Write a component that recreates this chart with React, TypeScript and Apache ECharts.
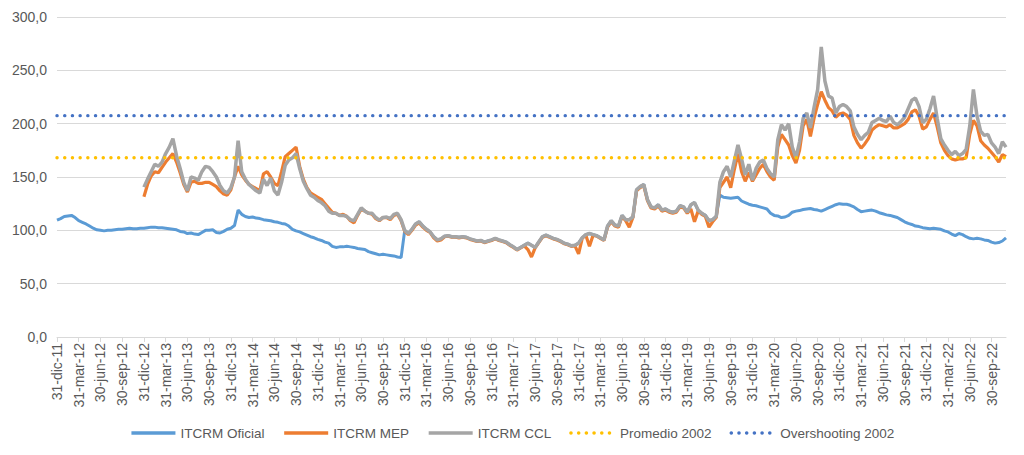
import React, { useEffect, useRef } from 'react';
import * as echarts from 'echarts';

const MONTHS = ['ene', 'feb', 'mar', 'abr', 'may', 'jun', 'jul', 'ago', 'sep', 'oct', 'nov', 'dic'];
const N_POINTS = 263; // semimonthly from 31-dic-11 to 30-nov-22

function buildCategories(count: number): string[] {
  const out: string[] = [];
  for (let i = 0; i < count; i++) {
    const k = Math.ceil(i / 2);
    const year = 2011 + Math.floor((11 + k) / 12);
    const month = (11 + k) % 12;
    const day = i % 2 === 1 ? 15 : new Date(year, month + 1, 0).getDate();
    out.push(`${day}-${MONTHS[month]}-${String(year % 100).padStart(2, '0')}`);
  }
  return out;
}

const categories = buildCategories(N_POINTS);

const itcrmOficial: number[] = [
  109.5, 111, 113, 113.5, 114, 112, 109, 107.5, 106, 104,
  102, 100.5, 100, 99.5, 100, 100, 100.5, 101, 101, 101.5,
  102, 101.5, 101.5, 102, 102, 102.5, 103, 103, 102.5, 102.5,
  102, 101.5, 101, 100.5, 99, 98.5, 97, 97.5, 96.5, 96,
  98, 100, 100, 100.5, 98, 97.5, 99, 101, 102, 104.5,
  119, 115, 113, 112, 112.5, 111.5, 111, 110, 109.5, 109,
  108, 107.5, 106.5, 106, 104, 101, 99.5, 98.5, 97, 95.5,
  94, 93, 91.5, 90.5, 89, 88, 85, 84, 84.5, 84.5,
  85, 84.5, 84, 83, 82.5, 82, 80, 79, 78, 77,
  77.5, 77, 76.5, 76, 75, 74.5,
  100, 97, 101, 106, 108, 104, 101, 98.5, 94, 91,
  92, 94.5, 95, 94, 94, 93.5, 94, 93.5, 92, 91,
  90, 90.5, 89, 90, 91, 92.5, 91, 90, 89, 86.5,
  84.5, 82, 84, 86, 88, 86, 84, 89, 94, 95.5,
  94, 92.5, 91.5, 90, 88, 87, 85.5, 86, 88, 93,
  96, 97, 96, 95, 93, 91, 104, 109, 105, 104,
  114, 110, 110, 112.5, 138, 141, 143, 129, 122, 121,
  124, 119, 120, 118, 117, 118, 123, 122, 117, 124,
  126, 119, 116, 114, 109, 110, 113,
  133, 131, 130.5, 130, 130.5, 131, 127.5, 126, 124.5, 123.5,
  123, 122, 121, 120, 116, 114, 113.5, 112, 112.5, 114,
  117, 118, 118.5, 119.5, 120, 120.5, 119.5, 119, 118, 119.5,
  121, 122.5, 124, 125, 124.5, 124.5, 123.5, 122, 119.5, 117.5,
  118, 118.5, 119, 118, 116.5, 115.5, 114.5, 114, 113, 112,
  110, 108, 106.5, 105.5, 104, 103.5, 102.5, 102, 101.5, 102,
  101.5, 101, 99.5, 98.5, 96.5, 95, 97, 96, 94, 92.5,
  92, 92.5, 92, 91, 90.5, 89, 88, 88.5, 90, 93,
];

const itcrmMep: (number | null)[] = [
  null, null, null, null, null, null, null, null, null, null, null, null,
  null, null, null, null, null, null, null, null, null, null, null, null,
  131.5, 143, 151, 155, 154, 159, 164, 168, 172, 164,
  154, 143, 136, 145, 146, 144, 144, 145, 145, 143,
  141, 137, 134, 133, 138, 150, 160, 152, 147, 143,
  141, 139, 137, 153, 155, 150, 144, 142, 155, 169,
  172, 175, 178, 160, 148, 140, 135, 133, 131, 129,
  125, 121, 117, 116, 114, 115, 113, 109, 107, 114,
  120, 118, 116, 115, 111, 109, 112, 112, 110, 114, 115, 109,
  99, 96, 100, 105, 107, 103, 100, 98, 93, 90,
  91, 94, 94.5, 93.5, 93.5, 93, 93.5, 93, 91.5, 90.5,
  89.5, 90, 88.5, 89.5, 90.5, 92, 90.5, 89.5, 88.5, 86,
  84, 81.5, 83.5, 85.5, 82, 75, 83.5, 88.5, 93.5, 95,
  93.5, 92, 91, 89.5, 87.5, 86.5, 85, 85.5, 78, 92.5,
  95.5, 85, 95.5, 94.5, 92.5, 90.5, 103, 108, 104, 103,
  113, 109, 103, 112, 137, 140, 142, 128, 121, 120,
  123, 118, 119, 117, 116, 117, 122, 121, 116, 120,
  108, 118, 115, 113, 103, 108, 112,
  140, 145, 150, 140, 157, 172, 155, 146, 154, 146,
  152, 158, 162, 155, 150, 147, 178, 190, 185, 180,
  170, 163, 175, 198, 204, 188, 205, 218, 230, 222,
  215, 212, 206, 209, 210, 208, 204, 189, 182, 177,
  181, 186, 194, 197, 199, 198, 197, 199, 196, 196,
  198, 200, 204, 211, 213, 207, 195, 197, 204, 210,
  197, 182, 175, 170, 167, 166, 167, 167, 168, 190,
  203, 198, 184, 180, 177, 173, 169, 164, 171, 169,
];

const itcrmCcl: (number | null)[] = [
  null, null, null, null, null, null, null, null, null, null, null, null,
  null, null, null, null, null, null, null, null, null, null, null, null,
  140.5, 148, 155, 162, 160, 164, 172, 178, 186, 170,
  158, 145, 137, 150, 149, 147, 155, 160, 159, 155,
  150, 142, 137, 135, 140, 150, 184, 155, 148, 143,
  140, 137, 135, 148, 142, 149, 137, 133, 145, 161,
  166, 168, 172, 158, 146, 139, 133, 131, 128, 126,
  123, 118, 116, 116, 114, 114, 113, 110, 109, 115,
  121, 118, 116, 116, 112, 109.5, 112, 112.5, 111, 115, 116, 110,
  100, 97, 101, 106, 108, 104, 101, 98.5, 94, 91,
  92, 94.5, 95, 94, 94, 93.5, 94, 93.5, 92, 91,
  90, 90.5, 89, 90, 91, 92.5, 91, 90, 89, 86.5,
  84.5, 82, 84, 86, 88, 86, 84, 89, 94, 95.5,
  94, 92.5, 91.5, 90, 88, 87, 85.5, 86, 88, 93,
  96, 97, 96, 95, 93, 91, 104, 109, 105, 104,
  114, 110, 110, 112.5, 138, 141, 143, 129, 122, 121,
  124, 119, 120, 118, 117, 118, 123, 122, 117, 124,
  126, 119, 116, 114, 109, 110, 113,
  145, 155, 160, 150, 165, 180, 167, 152, 162, 147,
  158, 164, 166, 158, 153, 150, 185, 199, 194, 200,
  178, 168, 183, 205, 210, 196, 215, 232, 272, 240,
  226, 224, 210, 216, 218, 216, 212, 197, 190, 185,
  189, 192, 201, 203, 205, 203, 202, 207, 201, 199,
  202, 206, 214, 222, 224, 216, 201, 204, 214, 226,
  205, 186, 180, 175, 171, 174, 170, 172, 176, 198,
  232, 207, 193, 189, 190, 182, 178, 172, 183, 178,
];

const PROMEDIO_2002 = 168;
const OVERSHOOTING_2002 = 207.5;

const FONT = "'Liberation Sans', Arial, sans-serif";
const TEXT_COLOR = '#595959';

export default function App() {
  const ref = useRef<HTMLDivElement>(null);

  useEffect(() => {
    document.body.style.margin = '0';
    if (!ref.current) return;
    const chart = echarts.init(ref.current, null, { renderer: 'svg' });

    const dotted = (color: string) => ({
      color,
      width: 3.4,
      type: [0.1, 7.6] as number[],
      cap: 'round' as const,
    });

    chart.setOption({
      animation: false,
      textStyle: { fontFamily: FONT },
      grid: { left: 57, right: 18, top: 17, bottom: 118, containLabel: false },
      legend: {
        top: 421,
        left: 'center',
        itemWidth: 44,
        itemHeight: 14,
        itemGap: 18,
        itemStyle: { opacity: 0 },
        lineStyle: { width: 3.5 },
        textStyle: { color: TEXT_COLOR, fontSize: 13.5, fontFamily: FONT },
        data: ['ITCRM Oficial', 'ITCRM MEP', 'ITCRM CCL', 'Promedio 2002', 'Overshooting 2002'],
      },
      xAxis: {
        type: 'category',
        data: categories,
        boundaryGap: false,
        axisLine: { lineStyle: { color: '#D9D9D9', width: 1 } },
        axisTick: { show: true, interval: 5, length: 5, lineStyle: { color: '#D9D9D9' } },
        axisLabel: {
          interval: 5,
          rotate: 90,
          margin: 6,
          color: TEXT_COLOR,
          fontSize: 14,
          fontFamily: FONT,
        },
        splitLine: { show: false },
      },
      yAxis: {
        type: 'value',
        min: 0,
        max: 300,
        interval: 50,
        axisLine: { show: false },
        axisTick: { show: false },
        axisLabel: {
          margin: 10,
          color: TEXT_COLOR,
          fontSize: 14,
          fontFamily: FONT,
          formatter: (v: number) => v.toFixed(1).replace('.', ','),
        },
        splitLine: { lineStyle: { color: '#D9D9D9', width: 1 } },
      },
      series: [
        {
          name: 'ITCRM Oficial',
          type: 'line',
          data: itcrmOficial,
          symbol: 'none',
          lineStyle: { color: '#5B9BD5', width: 3 },
          itemStyle: { color: '#5B9BD5' },
        },
        {
          name: 'ITCRM MEP',
          type: 'line',
          data: itcrmMep,
          symbol: 'none',
          lineStyle: { color: '#ED7D31', width: 3.2 },
          itemStyle: { color: '#ED7D31' },
        },
        {
          name: 'ITCRM CCL',
          type: 'line',
          data: itcrmCcl,
          symbol: 'none',
          lineStyle: { color: '#A5A5A5', width: 3.5 },
          itemStyle: { color: '#A5A5A5' },
        },
        {
          name: 'Promedio 2002',
          type: 'line',
          data: categories.map(() => PROMEDIO_2002),
          symbol: 'none',
          lineStyle: dotted('#FFC000'),
          itemStyle: { color: '#FFC000' },
        },
        {
          name: 'Overshooting 2002',
          type: 'line',
          data: categories.map(() => OVERSHOOTING_2002),
          symbol: 'none',
          lineStyle: dotted('#4472C4'),
          itemStyle: { color: '#4472C4' },
        },
      ],
    });

    return () => chart.dispose();
  }, []);

  return <div ref={ref} style={{ width: 1024, height: 455 }} />;
}
